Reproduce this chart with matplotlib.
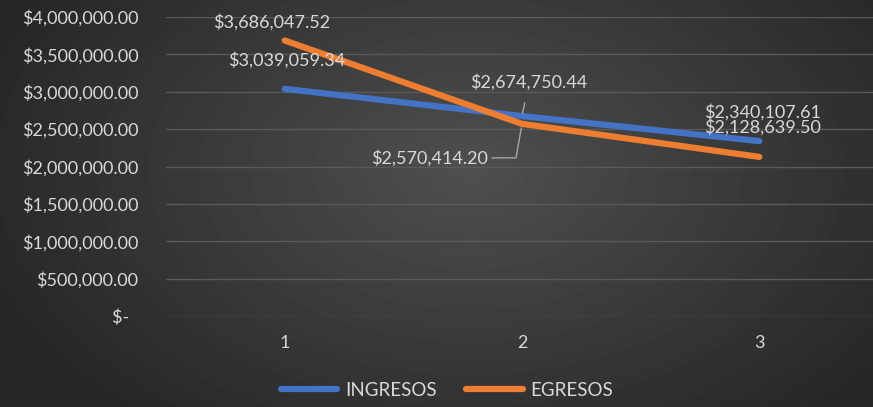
import numpy as np
import matplotlib
matplotlib.use('Agg')
import matplotlib.pyplot as plt

categories = [1, 2, 3]
ingresos = [3039059.34, 2674750.44, 2340107.61]
egresos = [3686047.52, 2570414.20, 2128639.50]
y_ticks = [0, 500000, 1000000, 1500000, 2000000, 2500000, 3000000, 3500000, 4000000]

plt.rcParams['font.family'] = ['Lato', 'DejaVu Sans']
txt = '#d9d9d9'
fs = 13

fig = plt.figure(figsize=(8.73, 4.07), dpi=100)

# radial background gradient
bg = fig.add_axes([0, 0, 1, 1], zorder=-10)
yy, xx = np.mgrid[0:407, 0:873]
r = np.sqrt(((xx - 470) / 520.0) ** 2 + ((yy - 170) / 330.0) ** 2)
shade = 0.31 - 0.16 * np.clip(r, 0, 1)
bg.imshow(shade, cmap='gray', vmin=0, vmax=1, aspect='auto', interpolation='bilinear')
bg.axis('off')

ax = fig.add_axes([166 / 873, 1 - 316 / 407, 712 / 873, (316 - 17) / 407])
ax.set_facecolor('none')

ax.plot(categories, ingresos, color='#4472c4', lw=4.5, solid_capstyle='round', label='INGRESOS', zorder=3)
ax.plot(categories, egresos, color='#ed7d31', lw=4.5, solid_capstyle='round', label='EGRESOS', zorder=3)

ax.set_xlim(0.5, 3.5)
ax.set_ylim(0, 4000000)
ax.set_yticks(y_ticks)
ax.set_yticklabels(['$-  ' if v == 0 else f'${v:,.2f}' for v in y_ticks])
ax.set_xticks(categories)
ax.set_xticklabels([str(c) for c in categories])
ax.tick_params(axis='y', length=0, pad=20, labelsize=fs, labelcolor=txt)
ax.tick_params(axis='x', length=0, pad=14, labelsize=fs, labelcolor=txt)
ax.grid(axis='y', color='#5a5a5a', lw=1)
for s in ax.spines.values():
    s.set_visible(False)

def lab(x, y, dx, dy, arrow=None):
    ax.annotate(f'${y:,.2f}', xy=(x, y), xytext=(dx, dy), textcoords='offset pixels',
                ha='center', va='center', color=txt, fontsize=fs, arrowprops=arrow, zorder=4)

lab(1, egresos[0], -13, 18)
lab(1, ingresos[0], 2, 29)
lab(2, ingresos[1], 7, 34, dict(arrowstyle='-', color='#a6a6a6', lw=1, shrinkA=7, shrinkB=2))
lab(2, egresos[1], -92, -34, dict(arrowstyle='-', color='#a6a6a6', lw=1, shrinkA=0, shrinkB=3,
                                   connectionstyle='angle,angleA=0,angleB=80,rad=0',
                                   relpos=(1.03, 0.5)))
lab(3, ingresos[2], 3, 29)
lab(3, egresos[2], 3, 30)

leg = fig.legend(loc='center', bbox_to_anchor=(0.512, 1 - 390 / 407), ncol=2, frameon=False,
                 fontsize=13.5, handlelength=3.0, columnspacing=1.6, handletextpad=0.4)
for t in leg.get_texts():
    t.set_color(txt)

fig.savefig('out.png', dpi=100)
